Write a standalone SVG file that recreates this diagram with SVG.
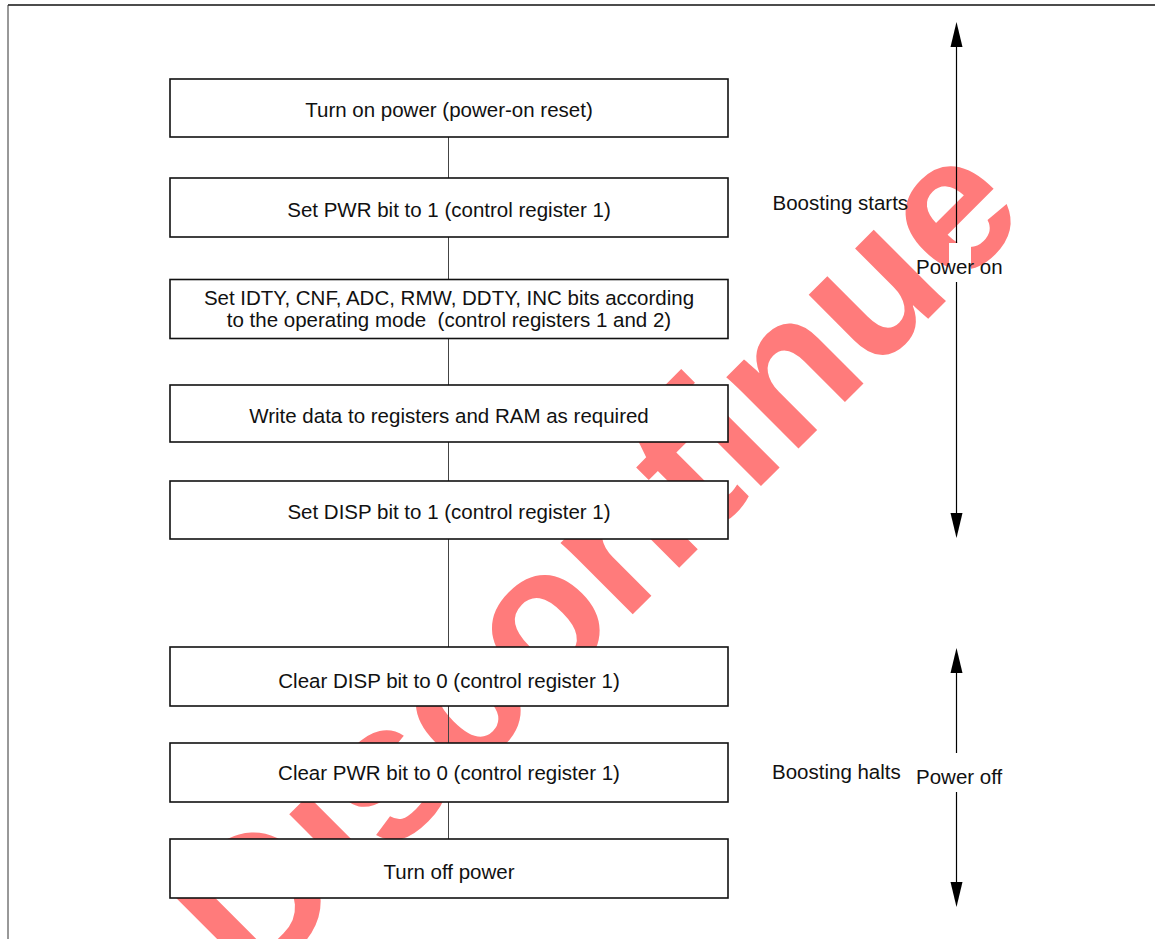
<svg xmlns="http://www.w3.org/2000/svg" width="1155" height="939" viewBox="0 0 1155 939">
<style>
.wm{font-family:"Liberation Sans",Arial,sans-serif;font-weight:bold;font-size:192px;fill:#ff7b7b}
.box{fill:#fff;stroke:#111;stroke-width:1.6}
.t{font-family:"Liberation Sans",Arial,sans-serif;font-size:20.5px;fill:#111;text-anchor:middle}
.lb{font-family:"Liberation Sans",Arial,sans-serif;font-size:20.5px;fill:#111}
.conn{stroke:#444;stroke-width:1;fill:none}
.arr{stroke:#000;stroke-width:1.2;fill:none}
.head{fill:#000}
</style>
<rect x="0" y="0" width="1155" height="939" fill="#fff"/>
<text class="wm" x="642" y="605" text-anchor="middle" transform="rotate(-45 642 605)">Discontinue</text>
<g id="frame">
<line x1="8" y1="5" x2="1155" y2="5" stroke="#111" stroke-width="1.6"/>
<line x1="8" y1="5" x2="8" y2="939" stroke="#333" stroke-width="1"/>
</g>
<g id="connectors">
<line class="conn" x1="448.5" y1="137" x2="448.5" y2="178"/>
<line class="conn" x1="448.5" y1="237" x2="448.5" y2="279.5"/>
<line class="conn" x1="448.5" y1="338.5" x2="448.5" y2="385"/>
<line class="conn" x1="448.5" y1="442" x2="448.5" y2="481"/>
<line class="conn" x1="448.5" y1="539" x2="448.5" y2="647"/>
<line class="conn" x1="448.5" y1="706" x2="448.5" y2="743"/>
<line class="conn" x1="448.5" y1="802" x2="448.5" y2="839"/>
</g>
<g id="n1"><rect class="box" x="170" y="79" width="558" height="58"/><text class="t" x="449" y="117">Turn on power (power-on reset)</text></g>
<g id="n2"><rect class="box" x="170" y="178" width="558" height="59"/><text class="t" x="449" y="217">Set PWR bit to 1 (control register 1)</text></g>
<g id="n3"><rect class="box" x="170" y="279.5" width="558" height="59"/><text class="t" x="449" y="305">Set IDTY, CNF, ADC, RMW, DDTY, INC bits according</text><text class="t" x="449" y="327" xml:space="preserve">to the operating mode  (control registers 1 and 2)</text></g>
<g id="n4"><rect class="box" x="170" y="385" width="558" height="57"/><text class="t" x="449" y="422.5">Write data to registers and RAM as required</text></g>
<g id="n5"><rect class="box" x="170" y="481" width="558" height="58"/><text class="t" x="449" y="519">Set DISP bit to 1 (control register 1)</text></g>
<g id="n6"><rect class="box" x="170" y="647" width="558" height="59"/><text class="t" x="449" y="688">Clear DISP bit to 0 (control register 1)</text></g>
<g id="n7"><rect class="box" x="170" y="743" width="558" height="59"/><text class="t" x="449" y="780">Clear PWR bit to 0 (control register 1)</text></g>
<g id="n8"><rect class="box" x="170" y="839" width="558" height="59"/><text class="t" x="449" y="879">Turn off power</text></g>
<g id="power-on">
<rect x="949" y="243" width="22" height="39" fill="#fff"/>
<line class="arr" x1="956.5" y1="46" x2="956.5" y2="243"/>
<line class="arr" x1="956.5" y1="282" x2="956.5" y2="514"/>
<polygon class="head" points="956.5,22 950.5,47 962.5,47"/>
<polygon class="head" points="956.5,538 950.5,513 962.5,513"/>
<text class="lb" x="916" y="274">Power on</text>
</g>
<g id="power-off">
<line class="arr" x1="956.5" y1="672" x2="956.5" y2="753"/>
<line class="arr" x1="956.5" y1="792" x2="956.5" y2="883"/>
<polygon class="head" points="956.5,648 950.5,673 962.5,673"/>
<polygon class="head" points="956.5,907 950.5,882 962.5,882"/>
<text class="lb" x="916" y="784">Power off</text>
</g>
<g id="labels">
<text class="lb" x="772.5" y="210">Boosting starts</text>
<text class="lb" x="772" y="779">Boosting halts</text>
</g>
</svg>
